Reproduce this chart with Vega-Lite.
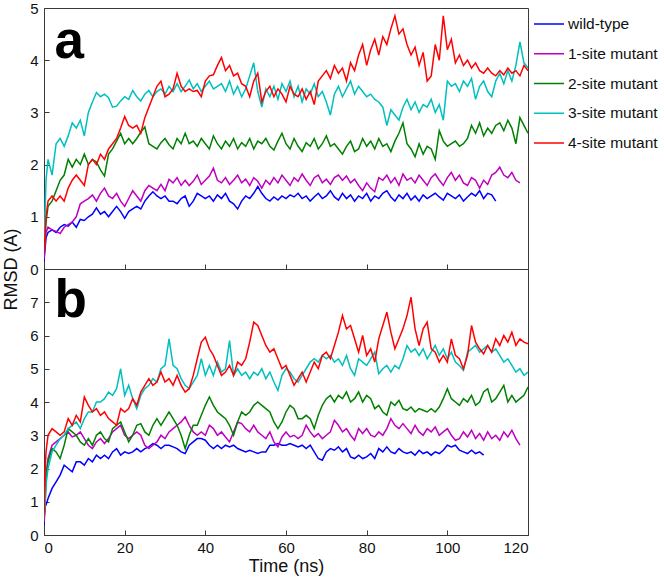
{
  "$schema": "https://vega.github.io/schema/vega-lite/v6.json",
  "padding": {"left": 1, "top": 0, "right": 2, "bottom": 2},
  "background": "white",
  "bounds": "flush",
  "config": {
    "font": "Liberation Sans",
    "view": {"stroke": "#3a3a3a", "strokeWidth": 1},
    "axis": {
      "domainColor": "#3a3a3a", "tickColor": "#3a3a3a", "labelFont": "Liberation Sans", "labelFontSize": 15,
      "labelColor": "#111111", "titleFont": "Liberation Sans", "titleFontSize": 18, "titleFontWeight": "normal",
      "titleColor": "#111111", "grid": false, "tickSize": -5, "labelOverlap": false, "labelSeparation": 0
    },
    "axisX": {"labelPadding": 10},
    "axisY": {"labelPadding": 11}
  },
  "spacing": 0,
  "datasets": {
    "a": [
      {"t":0,"w":0.15,"m1":0.2,"m2":0.3,"m3":0.4,"m4":0.3},
      {"t":0.5,"w":0.6,"m1":0.7,"m2":0.9,"m3":1.7,"m4":1.0},
      {"t":1,"w":0.7,"m1":0.8,"m2":1.2,"m3":2.1,"m4":1.3},
      {"t":2,"w":0.75,"m1":0.75,"m2":1.3,"m3":1.8,"m4":1.4},
      {"t":3,"w":0.7,"m1":0.72,"m2":1.5,"m3":2.4,"m4":1.3},
      {"t":4,"w":0.8,"m1":0.68,"m2":1.7,"m3":2.5,"m4":1.4},
      {"t":5,"w":0.85,"m1":0.8,"m2":1.8,"m3":2.35,"m4":1.3},
      {"t":6,"w":0.82,"m1":0.85,"m2":2.1,"m3":2.55,"m4":1.55},
      {"t":7,"w":0.9,"m1":0.9,"m2":1.95,"m3":2.8,"m4":1.7},
      {"t":8,"w":0.8,"m1":1.0,"m2":2.1,"m3":2.7,"m4":1.8},
      {"t":9,"w":0.95,"m1":1.25,"m2":2.0,"m3":2.85,"m4":1.7},
      {"t":10,"w":0.93,"m1":1.3,"m2":2.2,"m3":2.55,"m4":1.6},
      {"t":11,"w":1.0,"m1":1.35,"m2":2.0,"m3":3.0,"m4":2.0},
      {"t":12,"w":1.05,"m1":1.42,"m2":2.1,"m3":3.2,"m4":2.1},
      {"t":13,"w":1.17,"m1":1.3,"m2":2.05,"m3":3.38,"m4":2.0},
      {"t":14,"w":1.05,"m1":1.45,"m2":1.9,"m3":3.3,"m4":2.2},
      {"t":15,"w":1.1,"m1":1.55,"m2":1.78,"m3":3.35,"m4":2.1},
      {"t":16,"w":1.0,"m1":1.4,"m2":2.2,"m3":3.28,"m4":2.3},
      {"t":17,"w":1.1,"m1":1.35,"m2":2.3,"m3":3.1,"m4":2.4},
      {"t":18,"w":1.2,"m1":1.45,"m2":2.45,"m3":3.12,"m4":2.5},
      {"t":19,"w":1.1,"m1":1.3,"m2":2.6,"m3":3.22,"m4":2.7},
      {"t":20,"w":0.97,"m1":1.2,"m2":2.4,"m3":3.3,"m4":2.92},
      {"t":21,"w":1.1,"m1":1.35,"m2":2.5,"m3":3.25,"m4":2.75},
      {"t":22,"w":1.15,"m1":1.5,"m2":2.4,"m3":3.42,"m4":2.7},
      {"t":23,"w":1.2,"m1":1.4,"m2":2.5,"m3":3.3,"m4":2.75},
      {"t":24,"w":1.15,"m1":1.3,"m2":2.62,"m3":3.22,"m4":2.6},
      {"t":25,"w":1.3,"m1":1.5,"m2":2.72,"m3":3.35,"m4":2.9},
      {"t":26,"w":1.4,"m1":1.6,"m2":2.4,"m3":3.42,"m4":3.1},
      {"t":27,"w":1.48,"m1":1.55,"m2":2.35,"m3":3.3,"m4":3.3},
      {"t":28,"w":1.4,"m1":1.5,"m2":2.3,"m3":3.4,"m4":3.5},
      {"t":29,"w":1.35,"m1":1.62,"m2":2.42,"m3":3.45,"m4":3.6},
      {"t":30,"w":1.4,"m1":1.5,"m2":2.5,"m3":3.35,"m4":3.3},
      {"t":31,"w":1.3,"m1":1.72,"m2":2.38,"m3":3.5,"m4":3.35},
      {"t":32,"w":1.3,"m1":1.65,"m2":2.3,"m3":3.4,"m4":3.45},
      {"t":33,"w":1.25,"m1":1.75,"m2":2.5,"m3":3.55,"m4":3.75},
      {"t":34,"w":1.35,"m1":1.6,"m2":2.4,"m3":3.4,"m4":3.5},
      {"t":35,"w":1.4,"m1":1.7,"m2":2.6,"m3":3.5,"m4":3.4},
      {"t":36,"w":1.2,"m1":1.6,"m2":2.4,"m3":3.62,"m4":3.45},
      {"t":37,"w":1.3,"m1":1.68,"m2":2.45,"m3":3.45,"m4":3.4},
      {"t":38,"w":1.45,"m1":1.8,"m2":2.35,"m3":3.55,"m4":3.42},
      {"t":39,"w":1.4,"m1":1.62,"m2":2.5,"m3":3.4,"m4":3.3},
      {"t":40,"w":1.35,"m1":1.7,"m2":2.4,"m3":3.5,"m4":3.6},
      {"t":41,"w":1.4,"m1":1.78,"m2":2.3,"m3":3.6,"m4":3.7},
      {"t":42,"w":1.3,"m1":1.93,"m2":2.55,"m3":3.45,"m4":3.72},
      {"t":43,"w":1.42,"m1":1.7,"m2":2.4,"m3":3.5,"m4":3.9},
      {"t":44,"w":1.35,"m1":1.65,"m2":2.3,"m3":3.55,"m4":4.05},
      {"t":45,"w":1.45,"m1":1.75,"m2":2.45,"m3":3.4,"m4":3.8},
      {"t":46,"w":1.3,"m1":1.62,"m2":2.35,"m3":3.6,"m4":3.9},
      {"t":47,"w":1.25,"m1":1.7,"m2":2.5,"m3":3.35,"m4":3.7},
      {"t":48,"w":1.15,"m1":1.8,"m2":2.3,"m3":3.5,"m4":3.75},
      {"t":49,"w":1.3,"m1":1.65,"m2":2.42,"m3":3.3,"m4":3.55},
      {"t":50,"w":1.4,"m1":1.72,"m2":2.35,"m3":3.45,"m4":3.5},
      {"t":51,"w":1.35,"m1":1.6,"m2":2.5,"m3":3.7,"m4":3.3},
      {"t":52,"w":1.45,"m1":1.75,"m2":2.3,"m3":3.95,"m4":3.6},
      {"t":53,"w":1.58,"m1":1.68,"m2":2.45,"m3":3.4,"m4":3.75},
      {"t":54,"w":1.45,"m1":1.55,"m2":2.4,"m3":3.1,"m4":3.2},
      {"t":55,"w":1.35,"m1":1.7,"m2":2.5,"m3":3.45,"m4":3.4},
      {"t":56,"w":1.3,"m1":1.62,"m2":2.35,"m3":3.3,"m4":3.5},
      {"t":57,"w":1.38,"m1":1.75,"m2":2.28,"m3":3.5,"m4":3.3},
      {"t":58,"w":1.32,"m1":1.65,"m2":2.45,"m3":3.25,"m4":3.45},
      {"t":59,"w":1.4,"m1":1.8,"m2":2.6,"m3":3.55,"m4":3.35},
      {"t":60,"w":1.35,"m1":1.7,"m2":2.4,"m3":3.4,"m4":3.2},
      {"t":61,"w":1.42,"m1":1.6,"m2":2.3,"m3":3.6,"m4":3.5},
      {"t":62,"w":1.38,"m1":1.75,"m2":2.5,"m3":3.3,"m4":3.35},
      {"t":63,"w":1.45,"m1":1.68,"m2":2.35,"m3":3.5,"m4":3.3},
      {"t":64,"w":1.35,"m1":1.82,"m2":2.25,"m3":3.2,"m4":3.45},
      {"t":65,"w":1.4,"m1":1.7,"m2":2.42,"m3":3.45,"m4":3.25},
      {"t":66,"w":1.3,"m1":1.6,"m2":2.35,"m3":3.35,"m4":3.4},
      {"t":67,"w":1.38,"m1":1.75,"m2":2.5,"m3":3.55,"m4":3.15},
      {"t":68,"w":1.45,"m1":1.8,"m2":2.3,"m3":3.3,"m4":3.6},
      {"t":69,"w":1.35,"m1":1.65,"m2":2.4,"m3":3.4,"m4":3.7},
      {"t":70,"w":1.4,"m1":1.72,"m2":2.55,"m3":3.2,"m4":3.8},
      {"t":71,"w":1.5,"m1":1.62,"m2":2.35,"m3":2.95,"m4":3.65},
      {"t":72,"w":1.38,"m1":1.75,"m2":2.4,"m3":3.35,"m4":3.9},
      {"t":73,"w":1.32,"m1":1.8,"m2":2.3,"m3":3.5,"m4":3.75},
      {"t":74,"w":1.45,"m1":1.7,"m2":2.2,"m3":3.3,"m4":3.85},
      {"t":75,"w":1.35,"m1":1.78,"m2":2.35,"m3":3.45,"m4":3.6},
      {"t":76,"w":1.42,"m1":1.65,"m2":2.45,"m3":3.6,"m4":3.95},
      {"t":77,"w":1.3,"m1":1.72,"m2":2.25,"m3":3.35,"m4":3.8},
      {"t":78,"w":1.4,"m1":1.6,"m2":2.3,"m3":3.5,"m4":4.1},
      {"t":79,"w":1.35,"m1":1.5,"m2":2.5,"m3":3.4,"m4":4.3},
      {"t":80,"w":1.45,"m1":1.65,"m2":2.35,"m3":3.3,"m4":3.9},
      {"t":81,"w":1.3,"m1":1.55,"m2":2.45,"m3":3.35,"m4":4.2},
      {"t":82,"w":1.4,"m1":1.48,"m2":2.3,"m3":3.25,"m4":4.4},
      {"t":83,"w":1.35,"m1":1.75,"m2":2.5,"m3":3.2,"m4":4.1},
      {"t":84,"w":1.45,"m1":1.7,"m2":2.35,"m3":3.1,"m4":4.45},
      {"t":85,"w":1.5,"m1":1.8,"m2":2.4,"m3":2.75,"m4":4.3},
      {"t":86,"w":1.38,"m1":1.65,"m2":2.25,"m3":3.05,"m4":4.6},
      {"t":87,"w":1.3,"m1":1.75,"m2":2.45,"m3":2.95,"m4":4.85},
      {"t":88,"w":1.42,"m1":1.6,"m2":2.6,"m3":2.85,"m4":4.5},
      {"t":89,"w":1.35,"m1":1.82,"m2":2.8,"m3":3.1,"m4":4.6},
      {"t":90,"w":1.45,"m1":1.7,"m2":2.4,"m3":3.25,"m4":4.3},
      {"t":91,"w":1.32,"m1":1.75,"m2":2.3,"m3":3.05,"m4":4.1},
      {"t":92,"w":1.4,"m1":1.65,"m2":2.15,"m3":3.2,"m4":4.25},
      {"t":93,"w":1.3,"m1":1.8,"m2":2.4,"m3":3.0,"m4":3.9},
      {"t":94,"w":1.42,"m1":1.7,"m2":2.2,"m3":3.15,"m4":4.15},
      {"t":95,"w":1.35,"m1":1.6,"m2":2.35,"m3":3.1,"m4":3.6},
      {"t":96,"w":1.4,"m1":1.75,"m2":2.3,"m3":3.25,"m4":3.7},
      {"t":97,"w":1.45,"m1":1.82,"m2":2.1,"m3":3.0,"m4":4.3},
      {"t":98,"w":1.38,"m1":1.7,"m2":2.65,"m3":3.15,"m4":4.0},
      {"t":99,"w":1.32,"m1":1.6,"m2":2.45,"m3":2.85,"m4":4.85},
      {"t":100,"w":1.45,"m1":1.75,"m2":2.35,"m3":3.6,"m4":4.2},
      {"t":101,"w":1.4,"m1":1.85,"m2":2.4,"m3":3.5,"m4":4.4},
      {"t":102,"w":1.35,"m1":1.7,"m2":2.45,"m3":3.55,"m4":3.95},
      {"t":103,"w":1.42,"m1":1.8,"m2":2.35,"m3":3.4,"m4":4.1},
      {"t":104,"w":1.3,"m1":1.65,"m2":2.4,"m3":3.6,"m4":3.9},
      {"t":105,"w":1.38,"m1":1.6,"m2":2.5,"m3":3.5,"m4":4.0},
      {"t":106,"w":1.45,"m1":1.75,"m2":2.75,"m3":3.65,"m4":3.85},
      {"t":107,"w":1.4,"m1":1.7,"m2":2.6,"m3":3.25,"m4":3.95},
      {"t":108,"w":1.5,"m1":1.55,"m2":2.8,"m3":3.5,"m4":3.8},
      {"t":109,"w":1.35,"m1":1.7,"m2":2.55,"m3":3.6,"m4":3.75},
      {"t":110,"w":1.45,"m1":1.62,"m2":2.7,"m3":3.4,"m4":3.85},
      {"t":111,"w":1.42,"m1":1.8,"m2":2.6,"m3":3.3,"m4":3.75},
      {"t":112,"w":1.3,"m1":1.85,"m2":2.75,"m3":3.6,"m4":3.7},
      {"t":113,"m1":1.95,"m2":2.8,"m3":3.75,"m4":3.8},
      {"t":114,"m1":1.8,"m2":2.65,"m3":3.55,"m4":3.72},
      {"t":115,"m1":1.75,"m2":2.85,"m3":3.8,"m4":3.85},
      {"t":116,"m1":1.85,"m2":2.7,"m3":3.6,"m4":3.75},
      {"t":117,"m1":1.7,"m2":2.4,"m3":3.9,"m4":3.8},
      {"t":118,"m1":1.65,"m2":2.9,"m3":4.35,"m4":3.7},
      {"t":119,"m2":2.75,"m3":3.95,"m4":3.9},
      {"t":120,"m2":2.6,"m3":3.85,"m4":3.8}
    ],
    "b": [
      {"t":0,"w":0.3,"m1":0.4,"m2":0.5,"m3":0.5,"m4":0.5},
      {"t":0.3,"w":0.9,"m1":1.2,"m2":1.0,"m3":1.0,"m4":2.0},
      {"t":0.5,"w":0.9,"m1":1.8,"m2":1.7,"m3":1.5,"m4":2.5},
      {"t":1,"w":1.1,"m1":2.3,"m2":2.2,"m3":2.0,"m4":3.0},
      {"t":2,"w":1.4,"m1":2.7,"m2":2.6,"m3":2.5,"m4":3.2},
      {"t":3,"w":1.6,"m1":2.8,"m2":2.5,"m3":2.7,"m4":3.1},
      {"t":4,"w":1.8,"m1":2.9,"m2":2.3,"m3":2.9,"m4":3.0},
      {"t":5,"w":2.1,"m1":3.0,"m2":2.7,"m3":3.0,"m4":3.1},
      {"t":6,"w":2.0,"m1":3.1,"m2":3.2,"m3":3.2,"m4":3.5},
      {"t":7,"w":1.9,"m1":2.95,"m2":3.1,"m3":3.3,"m4":3.3},
      {"t":8,"w":2.2,"m1":3.0,"m2":3.0,"m3":3.4,"m4":3.6},
      {"t":9,"w":2.2,"m1":3.1,"m2":2.8,"m3":3.2,"m4":3.4},
      {"t":10,"w":2.1,"m1":2.9,"m2":2.7,"m3":3.5,"m4":4.15},
      {"t":11,"w":2.3,"m1":2.7,"m2":2.9,"m3":3.7,"m4":3.9},
      {"t":12,"w":2.2,"m1":2.6,"m2":2.7,"m3":3.7,"m4":3.7},
      {"t":13,"w":2.4,"m1":2.8,"m2":3.0,"m3":4.0,"m4":3.8},
      {"t":14,"w":2.3,"m1":2.9,"m2":3.1,"m3":4.0,"m4":3.6},
      {"t":15,"w":2.4,"m1":2.75,"m2":2.9,"m3":4.1,"m4":3.7},
      {"t":16,"w":2.3,"m1":2.9,"m2":2.8,"m3":4.3,"m4":3.5},
      {"t":17,"w":2.5,"m1":3.1,"m2":3.2,"m3":4.2,"m4":3.4},
      {"t":18,"w":2.6,"m1":3.2,"m2":3.3,"m3":4.4,"m4":3.3},
      {"t":19,"w":2.4,"m1":3.3,"m2":3.4,"m3":5.0,"m4":3.8},
      {"t":20,"w":2.5,"m1":3.0,"m2":3.1,"m3":4.2,"m4":3.7},
      {"t":21,"w":2.45,"m1":2.9,"m2":2.8,"m3":4.5,"m4":3.8},
      {"t":22,"w":2.5,"m1":3.0,"m2":3.0,"m3":4.1,"m4":4.1},
      {"t":23,"w":2.6,"m1":3.1,"m2":3.3,"m3":3.8,"m4":3.9},
      {"t":24,"w":2.5,"m1":3.0,"m2":3.35,"m3":4.2,"m4":4.3},
      {"t":25,"w":2.6,"m1":2.7,"m2":3.1,"m3":4.4,"m4":4.5},
      {"t":26,"w":2.65,"m1":2.6,"m2":3.0,"m3":4.5,"m4":4.7},
      {"t":27,"w":2.75,"m1":2.7,"m2":3.3,"m3":4.7,"m4":4.5},
      {"t":28,"w":2.7,"m1":2.8,"m2":3.5,"m3":4.6,"m4":4.6},
      {"t":29,"w":2.6,"m1":3.0,"m2":3.3,"m3":5.0,"m4":4.9},
      {"t":30,"w":2.7,"m1":2.9,"m2":3.5,"m3":5.1,"m4":4.6},
      {"t":31,"w":2.7,"m1":3.1,"m2":3.7,"m3":5.9,"m4":4.7},
      {"t":32,"w":2.65,"m1":3.2,"m2":3.5,"m3":5.1,"m4":4.5},
      {"t":33,"w":2.6,"m1":3.3,"m2":3.3,"m3":5.0,"m4":4.8},
      {"t":34,"w":2.5,"m1":3.4,"m2":3.0,"m3":4.7,"m4":4.5},
      {"t":35,"w":2.45,"m1":3.55,"m2":2.6,"m3":4.5,"m4":4.3},
      {"t":36,"w":2.7,"m1":3.3,"m2":3.0,"m3":4.4,"m4":4.4},
      {"t":37,"w":2.8,"m1":3.1,"m2":3.3,"m3":4.6,"m4":4.8},
      {"t":38,"w":2.9,"m1":3.0,"m2":3.3,"m3":4.8,"m4":5.3},
      {"t":39,"w":2.9,"m1":3.1,"m2":3.6,"m3":5.3,"m4":5.8},
      {"t":40,"w":2.85,"m1":3.0,"m2":3.9,"m3":4.8,"m4":5.95},
      {"t":41,"w":2.7,"m1":3.3,"m2":4.15,"m3":5.1,"m4":5.6},
      {"t":42,"w":2.6,"m1":3.2,"m2":3.9,"m3":4.8,"m4":5.4},
      {"t":43,"w":2.7,"m1":3.0,"m2":3.7,"m3":5.2,"m4":5.1},
      {"t":44,"w":2.6,"m1":3.1,"m2":3.6,"m3":4.9,"m4":4.8},
      {"t":45,"w":2.7,"m1":2.95,"m2":3.5,"m3":5.0,"m4":4.9},
      {"t":46,"w":2.65,"m1":2.8,"m2":3.3,"m3":5.85,"m4":5.1},
      {"t":47,"w":2.7,"m1":3.1,"m2":3.0,"m3":4.8,"m4":4.8},
      {"t":48,"w":2.6,"m1":3.4,"m2":3.4,"m3":5.0,"m4":5.2},
      {"t":49,"w":2.55,"m1":3.35,"m2":3.7,"m3":4.8,"m4":5.1},
      {"t":50,"w":2.5,"m1":3.2,"m2":3.6,"m3":4.9,"m4":5.3},
      {"t":51,"w":2.55,"m1":3.1,"m2":3.7,"m3":4.7,"m4":5.8},
      {"t":52,"w":2.5,"m1":3.3,"m2":3.9,"m3":4.9,"m4":6.4},
      {"t":53,"w":2.45,"m1":3.1,"m2":4.0,"m3":4.8,"m4":6.3},
      {"t":54,"w":2.5,"m1":3.0,"m2":3.9,"m3":5.0,"m4":6.0},
      {"t":55,"w":2.5,"m1":2.9,"m2":3.8,"m3":4.7,"m4":5.7},
      {"t":56,"w":2.7,"m1":3.1,"m2":3.7,"m3":4.9,"m4":5.5},
      {"t":57,"w":2.7,"m1":2.8,"m2":3.4,"m3":4.6,"m4":5.6},
      {"t":58,"w":2.75,"m1":2.65,"m2":3.2,"m3":4.35,"m4":5.3},
      {"t":59,"w":2.7,"m1":2.95,"m2":3.4,"m3":4.8,"m4":5.0},
      {"t":60,"w":2.7,"m1":3.1,"m2":3.7,"m3":5.0,"m4":5.1},
      {"t":61,"w":2.75,"m1":2.95,"m2":3.9,"m3":4.9,"m4":4.8},
      {"t":62,"w":2.7,"m1":3.0,"m2":3.8,"m3":4.7,"m4":4.5},
      {"t":63,"w":2.65,"m1":2.9,"m2":3.5,"m3":4.6,"m4":4.7},
      {"t":64,"w":2.7,"m1":3.0,"m2":3.5,"m3":4.8,"m4":4.9},
      {"t":65,"w":2.6,"m1":3.3,"m2":3.6,"m3":5.0,"m4":4.6},
      {"t":66,"w":2.7,"m1":3.1,"m2":3.5,"m3":5.2,"m4":4.9},
      {"t":67,"w":2.5,"m1":2.95,"m2":3.2,"m3":5.3,"m4":5.2},
      {"t":68,"w":2.3,"m1":3.05,"m2":3.6,"m3":5.2,"m4":5.0},
      {"t":69,"w":2.25,"m1":2.9,"m2":3.9,"m3":5.4,"m4":5.4},
      {"t":70,"w":2.5,"m1":3.0,"m2":4.1,"m3":5.3,"m4":5.5},
      {"t":71,"w":2.6,"m1":3.1,"m2":4.2,"m3":5.4,"m4":5.3},
      {"t":72,"w":2.55,"m1":3.45,"m2":4.0,"m3":5.2,"m4":5.7},
      {"t":73,"w":2.65,"m1":3.3,"m2":4.2,"m3":5.3,"m4":6.1},
      {"t":74,"w":2.5,"m1":3.1,"m2":4.1,"m3":5.1,"m4":6.6},
      {"t":75,"w":2.6,"m1":3.2,"m2":4.3,"m3":5.4,"m4":6.2},
      {"t":76,"w":2.35,"m1":3.0,"m2":4.0,"m3":5.0,"m4":6.3},
      {"t":77,"w":2.3,"m1":2.85,"m2":4.1,"m3":4.8,"m4":5.9},
      {"t":78,"w":2.4,"m1":3.2,"m2":4.3,"m3":5.3,"m4":5.5},
      {"t":79,"w":2.3,"m1":3.05,"m2":4.0,"m3":5.2,"m4":6.0},
      {"t":80,"w":2.35,"m1":3.2,"m2":4.2,"m3":5.1,"m4":5.4},
      {"t":81,"w":2.45,"m1":3.0,"m2":4.1,"m3":5.3,"m4":5.6},
      {"t":82,"w":2.3,"m1":2.95,"m2":3.8,"m3":5.5,"m4":5.2},
      {"t":83,"w":2.6,"m1":3.1,"m2":3.9,"m3":4.85,"m4":5.9},
      {"t":84,"w":2.5,"m1":3.0,"m2":3.7,"m3":5.0,"m4":6.3},
      {"t":85,"w":2.65,"m1":3.2,"m2":3.6,"m3":5.1,"m4":6.7},
      {"t":86,"w":2.5,"m1":3.5,"m2":4.0,"m3":4.9,"m4":6.1},
      {"t":87,"w":2.45,"m1":3.3,"m2":3.9,"m3":5.1,"m4":5.6},
      {"t":88,"w":2.6,"m1":3.2,"m2":4.05,"m3":5.0,"m4":5.9},
      {"t":89,"w":2.5,"m1":3.35,"m2":3.8,"m3":5.3,"m4":6.2},
      {"t":90,"w":2.45,"m1":3.2,"m2":3.75,"m3":5.7,"m4":6.6},
      {"t":91,"w":2.5,"m1":3.05,"m2":3.85,"m3":5.5,"m4":7.15},
      {"t":92,"w":2.4,"m1":3.3,"m2":3.7,"m3":5.6,"m4":6.2},
      {"t":93,"w":2.55,"m1":3.1,"m2":3.8,"m3":5.4,"m4":5.7},
      {"t":94,"w":2.45,"m1":3.0,"m2":3.75,"m3":5.6,"m4":6.2},
      {"t":95,"w":2.5,"m1":3.2,"m2":3.7,"m3":5.3,"m4":6.4},
      {"t":96,"w":2.4,"m1":3.1,"m2":3.8,"m3":5.5,"m4":5.6},
      {"t":97,"w":2.5,"m1":3.25,"m2":3.7,"m3":5.7,"m4":5.5},
      {"t":98,"w":2.45,"m1":3.0,"m2":3.85,"m3":5.4,"m4":5.2},
      {"t":99,"w":2.55,"m1":3.1,"m2":4.1,"m3":5.6,"m4":5.4},
      {"t":100,"w":2.7,"m1":3.2,"m2":4.4,"m3":5.3,"m4":5.2},
      {"t":101,"w":2.65,"m1":3.0,"m2":4.1,"m3":5.5,"m4":5.9},
      {"t":102,"w":2.7,"m1":2.85,"m2":4.0,"m3":5.2,"m4":5.4},
      {"t":103,"w":2.55,"m1":2.9,"m2":3.9,"m3":5.1,"m4":5.3},
      {"t":104,"w":2.5,"m1":3.1,"m2":4.1,"m3":4.95,"m4":5.0},
      {"t":105,"w":2.45,"m1":2.95,"m2":4.0,"m3":5.5,"m4":5.4},
      {"t":106,"w":2.55,"m1":3.15,"m2":4.2,"m3":5.6,"m4":6.3},
      {"t":107,"w":2.45,"m1":2.9,"m2":3.9,"m3":5.7,"m4":5.8},
      {"t":108,"w":2.5,"m1":3.05,"m2":4.0,"m3":5.5,"m4":5.6},
      {"t":109,"w":2.4,"m1":2.85,"m2":4.3,"m3":5.6,"m4":5.45},
      {"t":110,"m1":3.1,"m2":4.4,"m3":5.7,"m4":5.7},
      {"t":111,"m1":2.9,"m2":4.0,"m3":5.5,"m4":5.5},
      {"t":112,"m1":3.0,"m2":4.1,"m3":5.6,"m4":5.9},
      {"t":113,"m1":2.85,"m2":4.3,"m3":5.4,"m4":5.7},
      {"t":114,"m1":3.1,"m2":4.5,"m3":5.2,"m4":6.0},
      {"t":115,"m1":2.95,"m2":4.0,"m3":5.3,"m4":5.8},
      {"t":116,"m1":3.15,"m2":4.2,"m3":5.1,"m4":6.1},
      {"t":117,"m1":2.9,"m2":4.0,"m3":4.9,"m4":5.7},
      {"t":118,"m1":2.7,"m2":4.1,"m3":5.0,"m4":5.9},
      {"t":119,"m2":4.2,"m3":4.8,"m4":5.8},
      {"t":120,"m2":4.45,"m3":4.9,"m4":5.75}
    ]
  },
  "vconcat": [
    {
      "width": 484, "height": 261,
      "layer": [
        {
          "data": {"name": "a"},
          "transform": [{"fold": ["w", "m1", "m2", "m3", "m4"], "as": ["s", "v"]}],
          "mark": {"type": "line", "strokeWidth": 1.5, "clip": true},
          "encoding": {
            "x": {"field": "t", "type": "quantitative", "scale": {"domain": [0, 120], "nice": false},
                  "axis": {"values": [0, 20, 40, 60, 80, 100, 120], "labels": false, "title": null}},
            "y": {"field": "v", "type": "quantitative", "scale": {"domain": [0, 5], "nice": false},
                  "axis": {"values": [0, 1, 2, 3, 4, 5], "labelOverlap": false, "title": "RMSD (A)", "titleX": -33, "titleY": 261,
                           "titleAlign": "center", "titleBaseline": "middle", "titleAngle": -90}},
            "color": {"field": "s", "type": "nominal",
                      "scale": {"domain": ["w", "m1", "m2", "m3", "m4"], "range": ["#0000ff", "#bf00bf", "#008000", "#00bfbf", "#ff0000"]},
                      "legend": {"orient": "none", "legendX": 489, "legendY": 0, "title": null, "symbolType": "stroke",
                                 "symbolSize": 900, "symbolStrokeWidth": 1.5, "rowPadding": 4.75, "labelOffset": 3,
                                 "labelFont": "Liberation Sans", "labelFontSize": 15.5, "labelColor": "#111111", "padding": 0,
                                 "labelExpr": "{'w':'wild-type','m1':'1-site mutant','m2':'2-site mutant','m3':'3-site mutant','m4':'4-site mutant'}[datum.value]"}}
          }
        },
        {
          "data": {"values": [{"lab": "a"}]},
          "mark": {"type": "text", "fontSize": 53, "fontWeight": "bold", "align": "left", "baseline": "alphabetic", "color": "#000000", "font": "Liberation Sans"},
          "encoding": {
            "x": {"datum": 2.6, "type": "quantitative",
                  "axis": {"values": [0, 20, 40, 60, 80, 100, 120], "labels": false, "title": null}},
            "y": {"datum": 4.04, "type": "quantitative",
                  "axis": {"values": [0, 1, 2, 3, 4, 5], "labelOverlap": false, "title": "RMSD (A)", "titleX": -33, "titleY": 261,
                           "titleAlign": "center", "titleBaseline": "middle", "titleAngle": -90}},
            "text": {"field": "lab"}
          }
        }
      ]
    },
    {
      "width": 484, "height": 266,
      "layer": [
        {
          "data": {"name": "b"},
          "transform": [{"fold": ["w", "m1", "m2", "m3", "m4"], "as": ["s", "v"]}],
          "mark": {"type": "line", "strokeWidth": 1.5, "clip": true},
          "encoding": {
            "x": {"field": "t", "type": "quantitative", "scale": {"domain": [0, 120], "nice": false},
                  "axis": {"values": [0, 20, 40, 60, 80, 100, 120], "title": "Time (ns)", "titlePadding": 2}},
            "y": {"field": "v", "type": "quantitative", "scale": {"domain": [0, 8], "nice": false},
                  "axis": {"values": [0, 1, 2, 3, 4, 5, 6, 7], "labelOverlap": false, "title": null}},
            "color": {"field": "s", "type": "nominal",
                      "scale": {"domain": ["w", "m1", "m2", "m3", "m4"], "range": ["#0000ff", "#bf00bf", "#008000", "#00bfbf", "#ff0000"]},
                      "legend": null}
          }
        },
        {
          "data": {"values": [{"lab": "b"}]},
          "mark": {"type": "text", "fontSize": 53, "fontWeight": "bold", "align": "left", "baseline": "alphabetic", "color": "#000000", "font": "Liberation Sans"},
          "encoding": {
            "x": {"datum": 2.6, "type": "quantitative",
                  "axis": {"values": [0, 20, 40, 60, 80, 100, 120], "title": "Time (ns)", "titlePadding": 2}},
            "y": {"datum": 6.55, "type": "quantitative",
                  "axis": {"values": [0, 1, 2, 3, 4, 5, 6, 7], "labelOverlap": false, "title": null}},
            "text": {"field": "lab"}
          }
        }
      ]
    }
  ],
  "resolve": {"scale": {"color": "independent"}}
}
